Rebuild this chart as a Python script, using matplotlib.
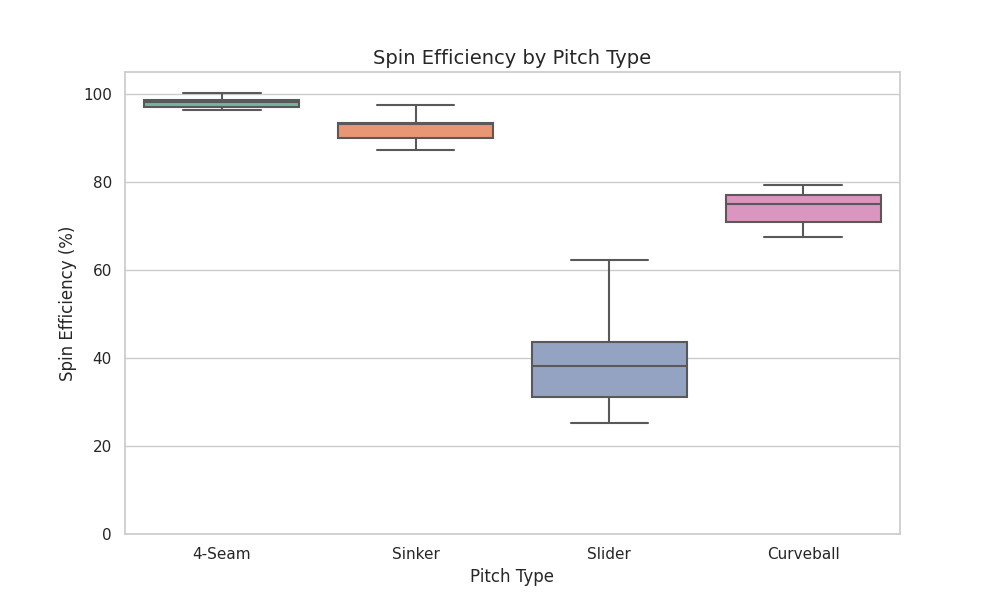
import matplotlib
matplotlib.use("Agg")
import matplotlib.pyplot as plt
import seaborn as sns

sns.set_theme(style="whitegrid")

pitch_types = ["4-Seam", "Sinker", "Slider", "Curveball"]
whisker_low = [96.4, 87.3, 25.2, 67.6]
q1 = [97.1, 90.1, 31.2, 70.8]
medians = [98.2, 93.1, 38.2, 75.0]
q3 = [98.6, 93.4, 43.7, 77.0]
whisker_high = [100.3, 97.6, 62.3, 79.4]
colors = [sns.desaturate(c, 0.75) for c in sns.color_palette("Set2", 4)]

stats = []
for name, lo, a, m, b, hi in zip(pitch_types, whisker_low, q1, medians, q3, whisker_high):
    stats.append(dict(label=name, whislo=lo, q1=a, med=m, q3=b, whishi=hi, fliers=[]))

fig, ax = plt.subplots(figsize=(10, 6), dpi=100)
line_color = "#595959"
lw = 1.5
bp = ax.bxp(stats, positions=range(len(stats)), widths=0.8, patch_artist=True,
            showfliers=False,
            boxprops=dict(edgecolor=line_color, linewidth=lw),
            medianprops=dict(color=line_color, linewidth=lw),
            whiskerprops=dict(color=line_color, linewidth=lw),
            capprops=dict(color=line_color, linewidth=lw),
            capwidths=0.4)
for patch, c in zip(bp["boxes"], colors):
    patch.set_facecolor(c)

ax.set_xlim(-0.5, 3.5)
ax.set_ylim(0, 105)
ax.set_xticks(range(len(pitch_types)))
ax.set_xticklabels(pitch_types)
ax.set_title("Spin Efficiency by Pitch Type", fontsize=14)
ax.set_xlabel("Pitch Type", fontsize=12)
ax.set_ylabel("Spin Efficiency (%)", fontsize=12)
ax.tick_params(labelsize=11)
ax.xaxis.grid(False)

fig.savefig("out.png", dpi=100)
